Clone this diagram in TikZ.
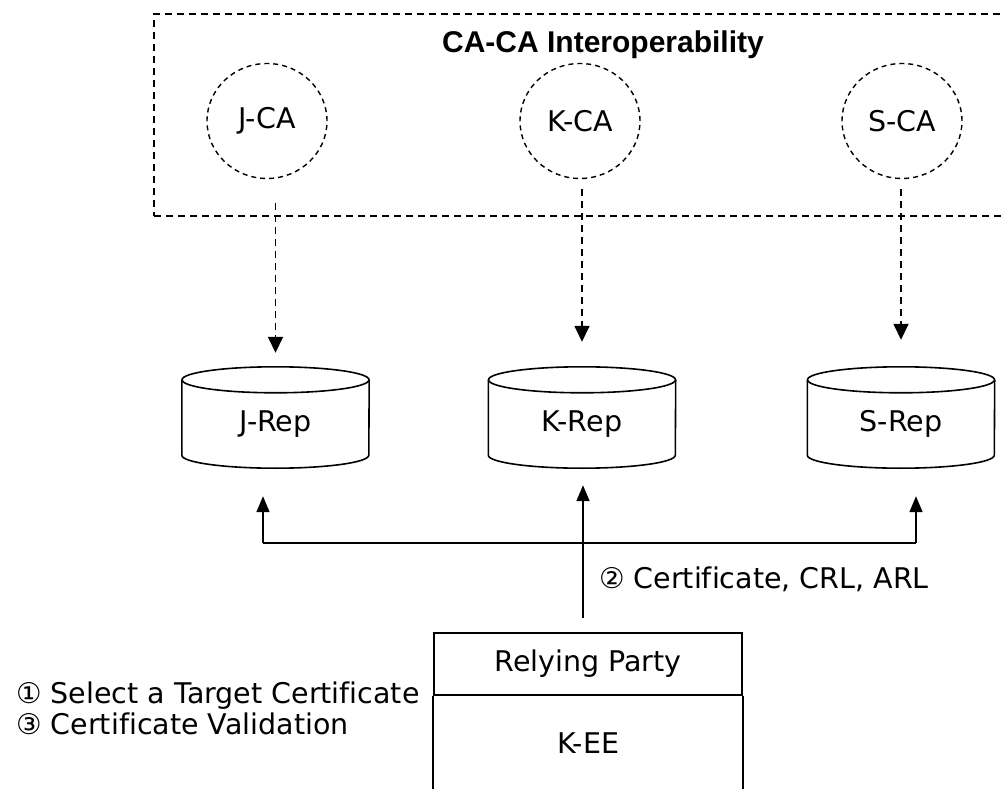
\documentclass[tikz,border=0pt]{standalone}
\usepackage{fontspec}
\setmainfont[Ligatures=NoCommon]{DejaVu Sans}
\newfontfamily\headfont{Liberation Sans}
\usetikzlibrary{arrows.meta,shapes.geometric,calc}
\tikzset{
  every node/.style={font=\fontsize{28.5}{31}\selectfont},
  cabox/.style={draw, line width=1.4pt, dash pattern=on 7pt off 5pt,
    minimum width=898pt, minimum height=202pt, inner sep=0pt},
  caellipse/.style={ellipse, draw, line width=1.4pt, dash pattern=on 5pt off 4pt,
    minimum width=120pt, minimum height=115pt, inner sep=0pt},
  repbody/.style={minimum width=187pt, minimum height=88pt, inner sep=0pt},
  repline/.style={line width=1.6pt},
  partybox/.style={line width=1.6pt, minimum width=308pt, inner sep=0pt},
  feed/.style={line width=1.6pt, dash pattern=on 7pt off 5pt,
    -{Triangle[width=15pt,length=16pt]}},
  fetch/.style={line width=1.7pt, -{Triangle[width=13pt,length=16pt]}},
}
\begin{document}
\begin{tikzpicture}[x=1pt,y=-1pt]
\path[use as bounding box, clip] (0,0) rectangle (1002,789);
\fill[white] (0,0) rectangle (1002,789);

% CA-CA interoperability domain
\node[cabox] (ca) at (603,115) {};
\node[font=\headfont\bfseries\fontsize{30}{31}\selectfont] (title)
  at ($(ca.north)+(0,31)$) {CA-CA Interoperability};

\node[caellipse] (jca) at (267,121) {J-CA};
\node[caellipse] (kca) at (580,121) {K-CA};
\node[caellipse] (sca) at (902,121) {S-CA};

% repositories (cylinders)
\node[repbody] (jrep) at (275.5,424) {J-Rep};
\node[repbody] (krep) at (582,424) {K-Rep};
\node[repbody] (srep) at (901,424) {S-Rep};
\foreach \n in {jrep,krep,srep}{
  \draw[repline] (\n.north) ellipse[x radius=93.5pt, y radius=13pt];
  \draw[repline] (\n.north west) -- ([yshift=13pt]\n.south west)
    arc[start angle=180, end angle=360, x radius=93.5pt, y radius=13pt]
    -- (\n.north east);
}

% publishing into the repositories
\draw[feed, shorten <=24pt, shorten >=27pt] (jca.south -| jrep.north) -- (jrep.north);
\draw[feed, shorten <=10pt, shorten >=38pt] (kca.south -| krep.north) -- (krep.north);
\draw[feed, shorten <=10pt, shorten >=40pt] (sca.south -| srep.north) -- (srep.north);

% relying party
\node[partybox, draw, minimum height=62pt] (rp) at (588,664) {Relying Party};
\node[partybox, minimum height=94pt, anchor=north] (kee) at (rp.south) {\raisebox{-6pt}{K-EE}};
\draw[line width=1.6pt] (kee.south west) -- (kee.north west);
\draw[line width=1.6pt] (kee.south east) -- (kee.north east);

\node[anchor=east, align=left] (steps) at ($(rp.south west)+(-10,13)$)
  {① Select a Target Certificate\\③ Certificate Validation};

% retrieval of certificates and revocation lists
\coordinate (busJ) at ($(jrep.south)+(-12.5,75)$);
\coordinate (busS) at ($(srep.south)+(15,75)$);
\coordinate (rpTop) at ($(rp.north -| krep.south)+(1,-14)$);
\draw[line width=1.7pt] (busJ) -- (busS);
\draw[fetch] (busJ) -- ($(jrep.south)+(-12.5,28)$);
\draw[fetch] (busS) -- ($(srep.south)+(15,28)$);
\draw[fetch] (rpTop) -- ($(krep.south)+(1,17)$)
  node[pos=0.29, anchor=west, xshift=12pt] (fetchlabel) {② Certificate, CRL, ARL};
\end{tikzpicture}
\end{document}
